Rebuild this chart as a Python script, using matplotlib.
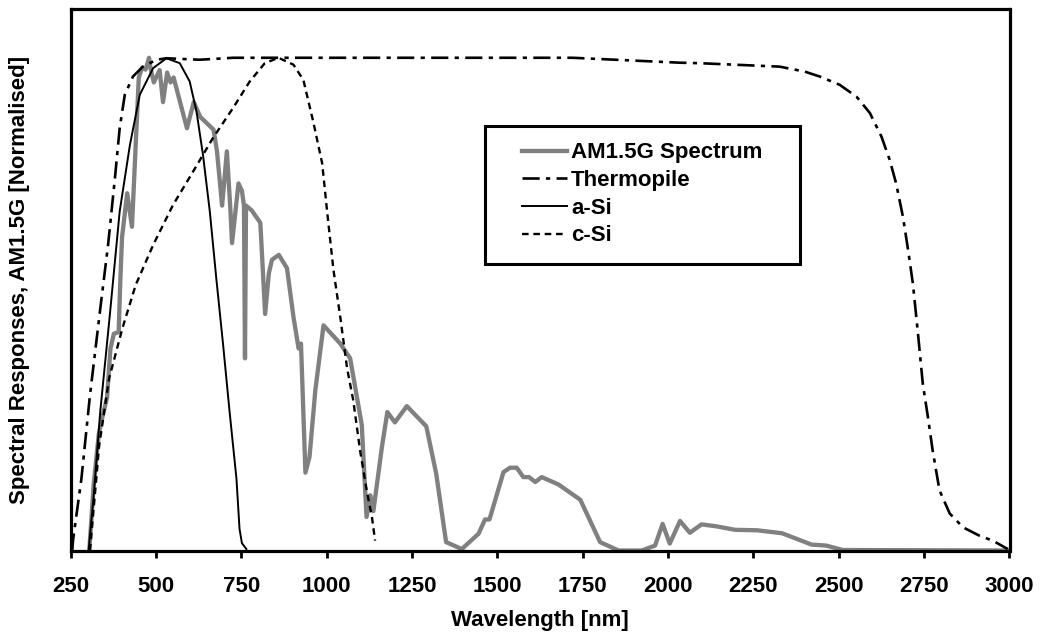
import numpy as np
import matplotlib
matplotlib.use("Agg")
import matplotlib.pyplot as plt
from matplotlib.patches import Rectangle

plt.rcParams['font.family'] = ['Liberation Sans', 'DejaVu Sans']
plt.rcParams['font.weight'] = 'bold'

# AM1.5G solar spectrum (normalised)
am_wl = [305, 318, 333, 343, 357, 367, 377, 391, 396, 401, 416, 430, 450, 460,
         470, 480, 484, 494, 511, 521, 533, 543, 552, 591, 611, 630, 669, 679,
         694, 708, 718, 723, 742, 752, 758, 761, 764, 781, 806, 820, 831, 840,
         860, 884, 903, 918, 925, 938, 950, 967, 991, 1040, 1069, 1103, 1117,
         1128, 1137, 1162, 1178, 1200, 1235, 1292, 1321, 1350, 1396, 1445,
         1464, 1477, 1518, 1537, 1557, 1576, 1593, 1611, 1630, 1679, 1743,
         1801, 1855, 1923, 1962, 1984, 2005, 2035, 2064, 2098, 2142, 2196,
         2261, 2334, 2420, 2463, 2512, 3000]
am_val = [0.0, 0.135, 0.237, 0.27, 0.31, 0.41, 0.44, 0.443, 0.55, 0.636, 0.725,
          0.657, 0.96, 0.98, 0.976, 1.0, 0.98, 0.95, 0.975, 0.91, 0.97, 0.95,
          0.96, 0.857, 0.91, 0.88, 0.854, 0.81, 0.70, 0.81, 0.695, 0.624, 0.745,
          0.73, 0.70, 0.39, 0.70, 0.69, 0.665, 0.48, 0.563, 0.59, 0.60, 0.573,
          0.474, 0.41, 0.42, 0.158, 0.19, 0.325, 0.457, 0.42, 0.39, 0.255,
          0.068, 0.112, 0.08, 0.21, 0.281, 0.26, 0.293, 0.252, 0.156, 0.017,
          0.003, 0.034, 0.063, 0.063, 0.159, 0.168, 0.168, 0.149, 0.149, 0.139,
          0.149, 0.134, 0.103, 0.017, 0.0, 0.0, 0.01, 0.054, 0.014, 0.06, 0.036,
          0.053, 0.049, 0.042, 0.041, 0.035, 0.012, 0.01, 0.001, 0.0]

# detector spectral responses (normalised)
therm_wl = [255, 258, 282, 307, 336, 360, 380, 394, 409, 433, 462, 502, 531,
            628, 726, 870, 1300, 1720, 2035, 2093, 2327, 2400, 2444, 2503,
            2552, 2591, 2625, 2649, 2668, 2688, 2703, 2717, 2732, 2746, 2761,
            2775, 2795, 2825, 2864, 2912, 2951, 2995]
therm_val = [0.0, 0.024, 0.146, 0.315, 0.484, 0.62, 0.755, 0.857, 0.925, 0.962,
             0.982, 0.996, 0.999, 0.996, 1.0, 1.0, 1.0, 1.0, 0.99, 0.989,
             0.982, 0.972, 0.962, 0.945, 0.921, 0.888, 0.84, 0.793, 0.745,
             0.677, 0.61, 0.542, 0.44, 0.339, 0.271, 0.203, 0.122, 0.075,
             0.047, 0.03, 0.02, 0.003]

asi_wl = [303, 318, 337, 366, 394, 424, 453, 492, 531, 570, 599, 619, 638, 658,
          677, 697, 716, 736, 745, 752, 765]
asi_val = [0.0, 0.112, 0.281, 0.484, 0.688, 0.823, 0.925, 0.979, 0.999, 0.989,
           0.952, 0.891, 0.803, 0.688, 0.552, 0.417, 0.281, 0.146, 0.044,
           0.015, 0.003]

csi_wl = [307, 334, 363, 402, 441, 492, 550, 609, 667, 726, 775, 819, 859, 903,
          932, 961, 987, 1002, 1020, 1040, 1060, 1078, 1098, 1118, 1133, 1142]
csi_val = [0.0, 0.213, 0.349, 0.451, 0.539, 0.62, 0.701, 0.769, 0.837, 0.898,
           0.952, 0.989, 1.0, 0.986, 0.955, 0.87, 0.786, 0.685, 0.57, 0.474,
           0.37, 0.305, 0.203, 0.12, 0.067, 0.02]

xticks = np.arange(250, 3001, 250)

fig = plt.figure(figsize=(10.45, 6.43), dpi=100)
ax = fig.add_axes([70.5 / 1045, 1 - 550.5 / 643, 939 / 1045, 542 / 643])

ax.plot(am_wl, am_val, color='#808080', lw=3.1, label='AM1.5G Spectrum')
ax.plot(therm_wl, therm_val, color='black', lw=1.9,
        linestyle=(0, (6.5, 2.4, 1.6, 2.4)), label='Thermopile')
ax.plot(asi_wl, asi_val, color='black', lw=1.4, label='a-Si')
ax.plot(csi_wl, csi_val, color='black', lw=1.7,
        linestyle=(0, (2.8, 2.0)), label='c-Si')

ax.set_xlim(250, 3000)
ax.set_ylim(0, 1.1)
ax.set_xticks(xticks)
ax.set_yticks([])
ax.tick_params(axis='x', direction='out', length=5, width=2, pad=13,
               labelsize=16)
for lab in ax.get_xticklabels():
    lab.set_fontweight('bold')
for sp in ax.spines.values():
    sp.set_linewidth(2.3)

ax.set_xlabel('Wavelength [nm]', fontsize=16, fontweight='bold', labelpad=10)
ax.set_ylabel('Spectral Responses, AM1.5G [Normalised]', fontsize=16,
              fontweight='bold', labelpad=29)

# legend with its own frame
leg = ax.legend(loc='center', bbox_to_anchor=(0.609, 0.657), frameon=False,
                prop={'size': 16, 'weight': 'bold'}, handlelength=2.0,
                handletextpad=0.2, labelspacing=0.3)
ax.add_patch(Rectangle((0.4415, 0.5295), 0.335, 0.2546, transform=ax.transAxes,
                       fill=False, edgecolor='black', lw=2.2, zorder=5))

fig.savefig('out.png', dpi=100)
